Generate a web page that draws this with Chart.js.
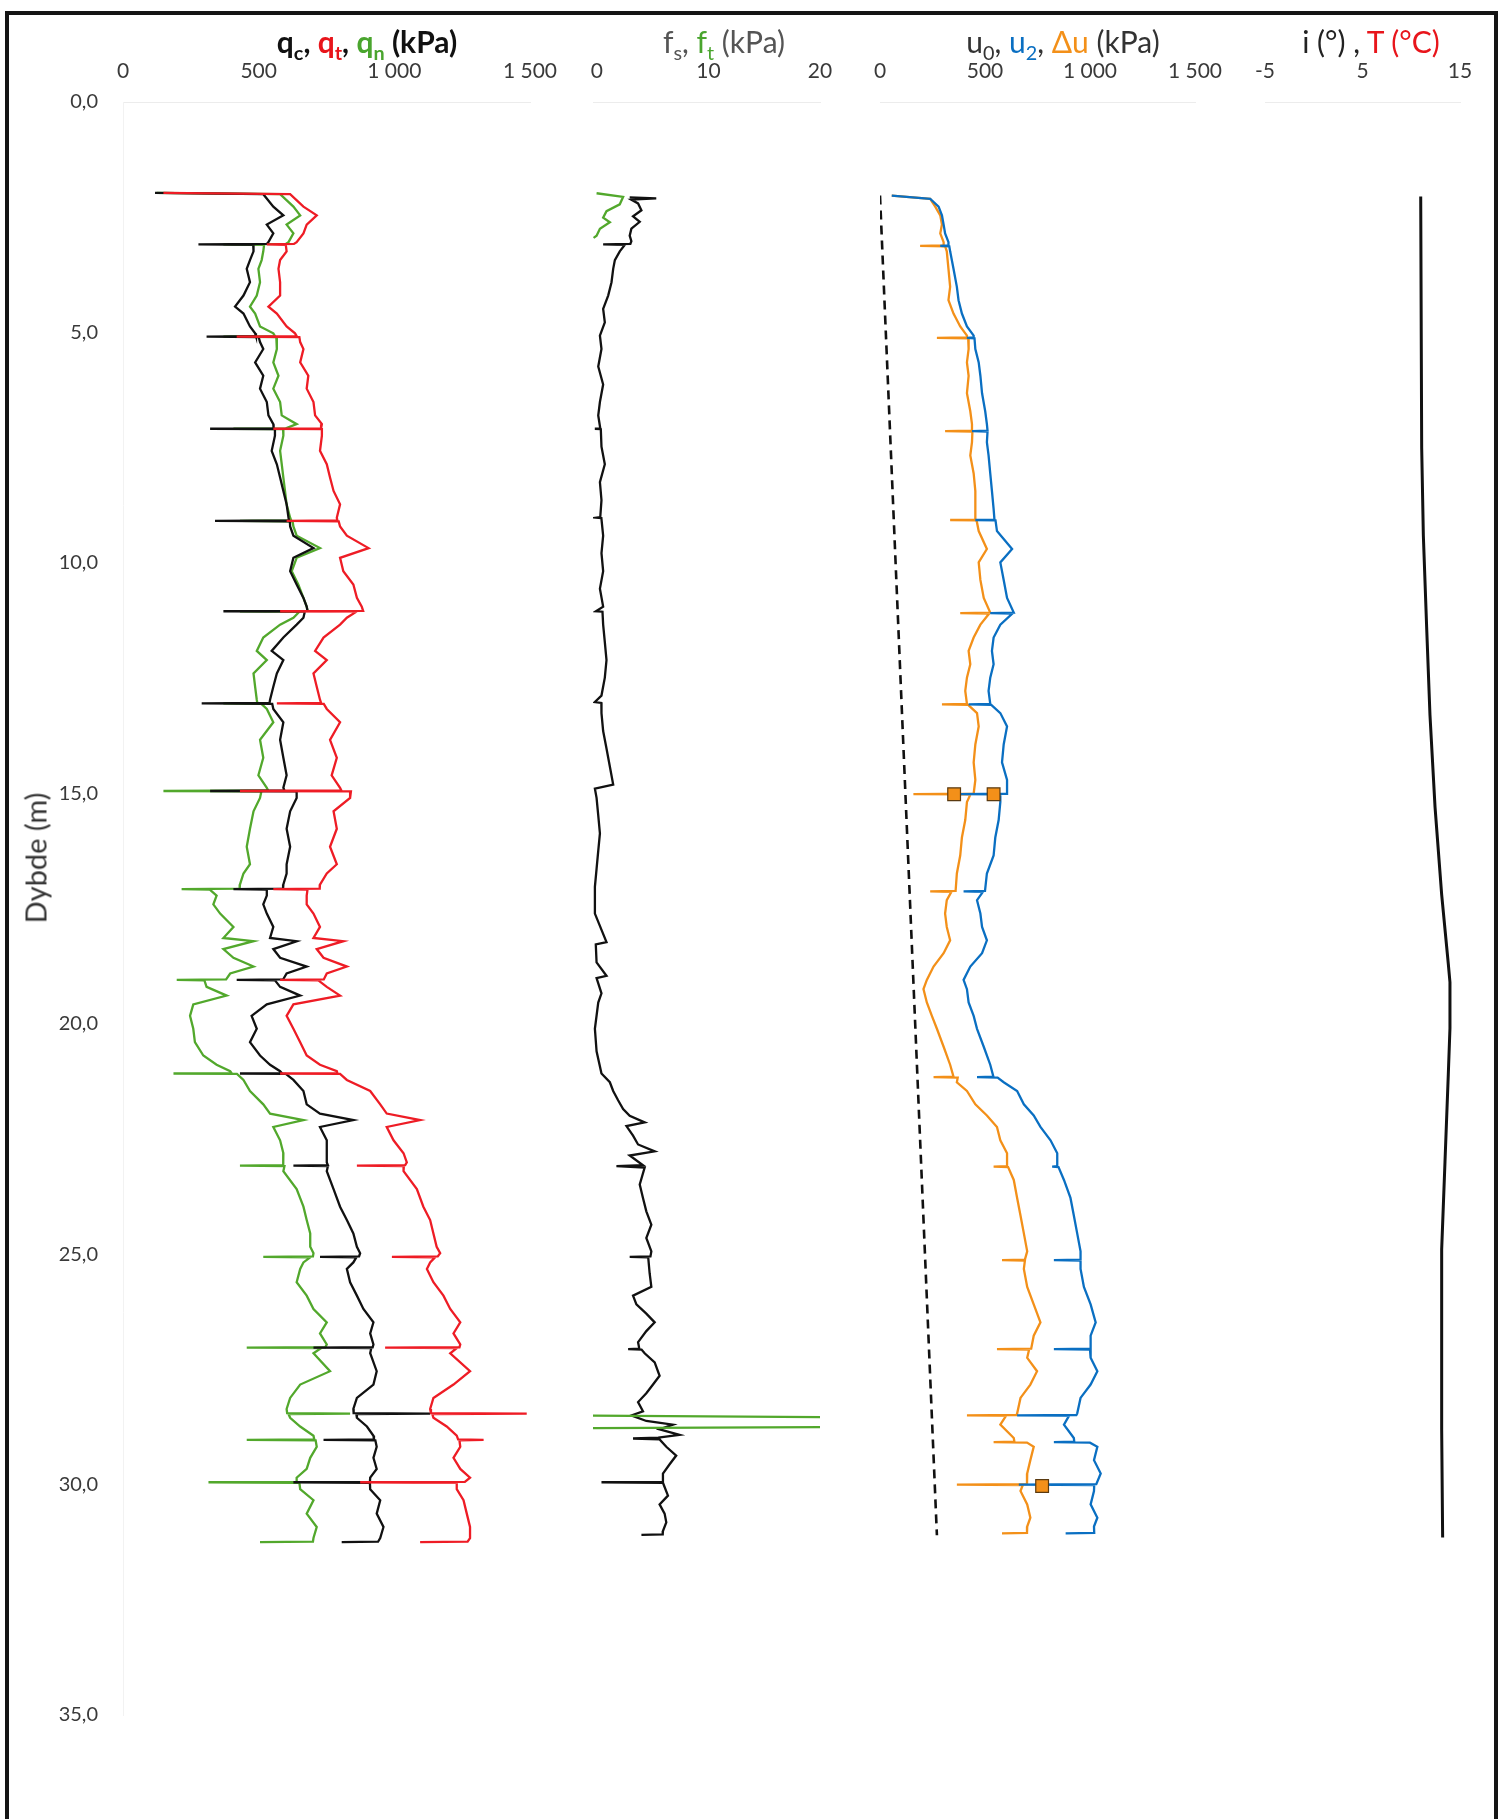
<!DOCTYPE html>
<html>
<head>
<meta charset="utf-8">
<script src="https://cdn.jsdelivr.net/npm/chart.js@4.4.0/dist/chart.umd.min.js"></script>
<style>
html, body { margin: 0; padding: 0; background: #fff; }
#page { position: relative; width: 1503px; height: 1819px; overflow: hidden; }
#frame { position: absolute; left: 5px; top: 11px; width: 1493px; height: 1900px; border: 4px solid #151515; box-sizing: border-box; }
canvas { position: absolute; left: 0; top: 0; }
.ttl { position: absolute; top: 24px; transform: translateX(-50%); white-space: nowrap; font-family: Lato, sans-serif; font-size: 30px; line-height: 34px; }
.ttl sub { font-size: 0.66em; vertical-align: -0.35em; line-height: 0; }
#ylab { position: absolute; left: 35px; top: 858px; transform: translate(-50%, -50%) rotate(-90deg); font-family: Lato, sans-serif; font-size: 29px; color: #333; white-space: nowrap; }
</style>
</head>
<body>
<div id="page">
  <div id="frame"></div>
  <canvas id="c1" width="1503" height="1819"></canvas>
  <canvas id="c2" width="1503" height="1819"></canvas>
  <canvas id="c3" width="1503" height="1819"></canvas>
  <canvas id="c4" width="1503" height="1819"></canvas>
  <div class="ttl" style="left:367px;font-weight:bold;color:#111">q<sub>c</sub>, <span style="color:#e8151b">q<sub>t</sub></span>, <span style="color:#4aa52e">q<sub>n</sub></span> (kPa)</div>
  <div class="ttl" style="left:724px;color:#555">f<sub>s</sub>, <span style="color:#4aa52e">f<sub>t</sub></span> (kPa)</div>
  <div class="ttl" style="left:1063px;color:#333">u<sub>0</sub>, <span style="color:#0a6fc2">u<sub>2</sub></span>, <span style="color:#f39019">Δu</span> (kPa)</div>
  <div class="ttl" style="left:1371px;color:#222">i (°) , <span style="color:#e8151b">T (°C)</span></div>
  <div id="ylab">Dybde (m)</div>
</div>
<script>
// depth axis
const depthTicks = [0, 5, 10, 15, 20, 25, 30, 35];

// panel 1: cone resistance qc, qt, qn (kPa)
const qDepth = [
  1.97, 2.00, 2.27, 2.46, 2.66, 2.85, 3.04, 3.08, 3.09, 3.10,
  3.24, 3.43, 3.62, 3.91, 4.20, 4.44, 4.59, 4.87, 5.02, 5.08,
  5.09, 5.10, 5.21, 5.36, 5.65, 5.94, 6.22, 6.51, 6.80, 6.99,
  7.08, 7.09, 7.10, 7.24, 7.57, 7.86, 8.15, 8.44, 8.73, 9.02,
  9.08, 9.09, 9.10, 9.21, 9.41, 9.68, 9.89, 10.18, 10.47, 10.76,
  10.95, 11.04, 11.05, 11.06, 11.19, 11.34, 11.62, 11.91, 12.11, 12.40,
  12.69, 12.97, 13.04, 13.05, 13.06, 13.17, 13.46, 13.84, 14.23, 14.61,
  14.88, 14.94, 14.95, 14.96, 15.10, 15.39, 15.77, 16.16, 16.54, 16.74,
  16.98, 17.07, 17.08, 17.09, 17.22, 17.41, 17.61, 17.90, 18.14, 18.21,
  18.38, 18.57, 18.76, 18.91, 19.04, 19.05, 19.06, 19.20, 19.39, 19.58,
  19.83, 20.11, 20.40, 20.69, 20.89, 21.03, 21.07, 21.08, 21.09, 21.22,
  21.46, 21.75, 21.95, 22.09, 22.24, 22.53, 22.81, 23.01, 23.07, 23.08,
  23.09, 23.20, 23.59, 23.97, 24.26, 24.55, 24.84, 24.98, 25.05, 25.06,
  25.07, 25.18, 25.32, 25.61, 25.90, 26.19, 26.48, 26.72, 26.96, 27.02,
  27.03, 27.04, 27.15, 27.54, 27.83, 28.12, 28.36, 28.45, 28.46, 28.47,
  28.55, 28.74, 28.94, 29.02, 29.03, 29.04, 29.18, 29.42, 29.66, 29.85,
  29.94, 29.95, 29.96, 30.10, 30.34, 30.63, 30.92, 31.16, 31.24, 31.25
];
const qc = [
  118, 517, 554, 591, 530, 554, 536, 530, 278, 480,
  481, 468, 456, 468, 444, 413, 444, 468, 487, 490,
  308, 500, 505, 517, 487, 517, 505, 530, 536, 554,
  555, 321, 560, 560, 548, 567, 579, 591, 603, 610,
  612, 339, 615, 616, 628, 702, 628, 616, 640, 665,
  677, 680, 370, 670, 665, 640, 591, 548, 591, 567,
  554, 542, 540, 290, 550, 554, 591, 579, 591, 603,
  591, 595, 321, 640, 640, 616, 603, 616, 603, 603,
  591, 590, 407, 530, 530, 517, 530, 554, 542, 640,
  554, 579, 677, 603, 590, 419, 560, 579, 653, 530,
  474, 493, 468, 505, 542, 579, 585, 431, 600, 628,
  665, 677, 726, 849, 726, 751, 751, 751, 755, 628,
  755, 751, 776, 800, 825, 849, 862, 874, 870, 726,
  860, 849, 825, 837, 862, 886, 923, 911, 923, 920,
  702, 915, 911, 935, 923, 862, 849, 850, 1132, 860,
  862, 899, 923, 925, 739, 930, 935, 923, 935, 911,
  910, 628, 910, 911, 948, 935, 960, 948, 940, 806
];
const qt = [
  149, 616, 665, 714, 677, 665, 640, 630, 530, 600,
  603, 579, 573, 579, 579, 536, 567, 603, 634, 640,
  419, 650, 653, 665, 653, 683, 677, 702, 708, 733,
  730, 554, 733, 733, 726, 751, 763, 776, 800, 788,
  790, 603, 795, 800, 825, 905, 800, 812, 849, 862,
  880, 885, 579, 860, 825, 800, 739, 708, 751, 702,
  714, 726, 730, 567, 740, 751, 800, 763, 788, 769,
  800, 805, 431, 840, 837, 776, 788, 763, 788, 751,
  726, 725, 554, 680, 677, 677, 702, 726, 702, 812,
  714, 739, 825, 751, 740, 579, 720, 751, 800, 628,
  603, 628, 653, 677, 726, 788, 790, 579, 800, 825,
  911, 948, 972, 1095, 972, 997, 1034, 1046, 1040, 862,
  1035, 1034, 1083, 1107, 1132, 1144, 1156, 1169, 1160, 991,
  1150, 1132, 1120, 1144, 1181, 1206, 1243, 1218, 1243, 1240,
  966, 1230, 1206, 1279, 1218, 1144, 1132, 1135, 1488, 1140,
  1144, 1193, 1230, 1235, 1329, 1240, 1243, 1218, 1243, 1279,
  1260, 874, 1230, 1230, 1255, 1267, 1279, 1279, 1270, 1095
];
const qn = [
  124, 579, 628, 653, 603, 628, 610, 600, 370, 520,
  517, 511, 499, 505, 493, 468, 487, 505, 554, 560,
  370, 565, 567, 567, 554, 573, 554, 579, 585, 640,
  600, 407, 590, 591, 579, 585, 591, 597, 603, 616,
  620, 431, 625, 628, 640, 726, 640, 622, 646, 665,
  677, 680, 431, 650, 628, 579, 517, 493, 530, 481,
  487, 493, 495, 370, 510, 530, 554, 505, 517, 499,
  530, 535, 149, 510, 505, 481, 468, 456, 468, 444,
  431, 430, 216, 320, 345, 333, 358, 407, 370, 481,
  370, 407, 481, 395, 380, 198, 300, 308, 382, 259,
  247, 259, 265, 296, 345, 395, 400, 186, 420, 444,
  468, 517, 542, 665, 554, 579, 591, 591, 590, 431,
  595, 591, 640, 665, 677, 690, 690, 702, 700, 517,
  690, 665, 653, 640, 677, 702, 751, 726, 751, 745,
  456, 730, 702, 763, 653, 616, 603, 605, 837, 610,
  616, 653, 702, 705, 456, 710, 714, 690, 677, 640,
  640, 315, 650, 653, 702, 677, 714, 702, 700, 505
];
const qTicks = [0, 500, 1000, 1500];

// panel 2: sleeve friction fs and ft (kPa)
const fsDepth = [
  2.07, 2.09, 2.12, 2.20, 2.35, 2.48, 2.60, 2.75, 2.90, 3.02,
  3.08, 3.09, 3.10, 3.24, 3.43, 3.62, 3.91, 4.20, 4.49, 4.78,
  5.07, 5.36, 5.74, 6.13, 6.51, 6.80, 7.08, 7.09, 7.10, 7.48,
  7.86, 8.25, 8.64, 9.01, 9.02, 9.03, 9.41, 9.79, 10.18, 10.56,
  10.95, 11.05, 11.06, 11.34, 11.72, 12.11, 12.49, 12.88, 13.02, 13.04,
  13.26, 13.65, 14.03, 14.42, 14.81, 14.90, 15.10, 15.48, 15.87, 16.25,
  16.64, 17.03, 17.61, 18.23, 18.28, 18.67, 18.96, 19.01, 19.34, 19.54,
  20.11, 20.60, 21.08, 21.27, 21.46, 21.66, 21.85, 22.00, 22.14, 22.22,
  22.43, 22.62, 22.77, 22.86, 23.07, 23.09, 23.12, 23.49, 23.78, 24.07,
  24.36, 24.65, 24.94, 25.05, 25.06, 25.07, 25.42, 25.71, 25.90, 26.09,
  26.29, 26.48, 26.67, 26.91, 27.05, 27.06, 27.07, 27.15, 27.35, 27.64,
  27.83, 28.02, 28.21, 28.41, 28.50, 28.62, 28.70, 28.80, 28.92, 28.98,
  29.00, 29.02, 29.18, 29.37, 29.56, 29.76, 29.94, 29.95, 29.96, 30.24,
  30.43, 30.63, 30.82, 31.01, 31.08, 31.09
];
const fs = [
  2.94, 5.32, 3.09, 3.69, 3.99, 3.24, 3.84, 3.09, 2.94, 3.09,
  3.00, 0.56, 2.50, 2.05, 1.61, 1.46, 1.31, 1.01, 0.56, 0.71,
  0.27, 0.41, 0.12, 0.56, 0.27, 0.12, 0.30, -0.18, 0.35, 0.41,
  0.71, 0.27, 0.41, 0.30, -0.03, 0.40, 0.56, 0.41, 0.56, 0.27,
  0.56, -0.10, 0.50, 0.56, 0.71, 0.86, 0.71, 0.41, -0.18, 0.40,
  0.41, 0.56, 0.86, 1.16, 1.46, -0.18, -0.03, 0.12, 0.27, 0.12,
  -0.03, -0.18, -0.18, 0.86, -0.10, -0.03, 0.86, -0.03, 0.41, 0.12,
  -0.18, -0.03, 0.41, 1.16, 1.46, 1.90, 2.35, 2.94, 4.28, 2.65,
  3.24, 3.69, 5.18, 2.94, 4.13, 1.75, 4.28, 3.84, 4.13, 4.43,
  4.88, 4.43, 4.88, 4.80, 2.94, 4.60, 4.73, 4.88, 3.24, 3.54,
  4.43, 5.18, 4.43, 3.69, 3.80, 2.80, 4.00, 4.28, 5.18, 5.62,
  5.03, 4.43, 3.69, 4.13, 3.09, 4.43, 6.81, 5.62, 7.41, 5.50,
  3.24, 5.62, 6.22, 7.11, 6.52, 5.92, 5.92, 0.41, 5.92, 6.37,
  5.62, 6.07, 6.22, 5.92, 5.90, 3.99
];
const ftDepth = [1.98, 2.06, 2.22, 2.37, 2.51, 2.61, 2.75, 2.90, 2.95, 3.00, 28.50, 28.55, 28.74, 28.78];
const ft = [-0.03, 2.35, 2.05, 0.86, 0.56, 1.16, 0.27, -0.03, -0.30, null, -3, 30, 30, -3];
const fTicks = [0, 10, 20];

// panel 3: pore pressure u0, u2, du (kPa)
const uDepth = [
  2.03, 2.10, 2.27, 2.46, 2.66, 2.85, 3.04, 3.11, 3.12, 3.13,
  3.24, 3.62, 4.01, 4.30, 4.59, 4.87, 5.07, 5.11, 5.12, 5.13,
  5.36, 5.65, 5.94, 6.32, 6.71, 6.99, 7.13, 7.14, 7.15, 7.38,
  7.67, 8.06, 8.44, 8.83, 9.06, 9.07, 9.08, 9.31, 9.70, 9.99,
  10.37, 10.76, 11.08, 11.09, 11.10, 11.34, 11.62, 11.91, 12.20, 12.49,
  12.78, 13.06, 13.07, 13.08, 13.26, 13.55, 13.94, 14.33, 14.71, 15.01,
  15.02, 15.03, 15.19, 15.58, 15.96, 16.35, 16.74, 17.12, 17.13, 17.14,
  17.32, 17.61, 17.90, 18.19, 18.47, 18.76, 19.05, 19.25, 19.54, 19.83,
  20.11, 20.50, 20.89, 21.15, 21.16, 21.17, 21.27, 21.46, 21.75, 21.99,
  22.24, 22.53, 22.81, 23.09, 23.10, 23.11, 23.39, 23.78, 24.16, 24.55,
  24.94, 25.12, 25.13, 25.14, 25.32, 25.71, 26.09, 26.48, 26.77, 27.05,
  27.06, 27.07, 27.25, 27.54, 27.83, 28.12, 28.46, 28.49, 28.50, 28.51,
  28.70, 28.99, 29.07, 29.08, 29.09, 29.18, 29.47, 29.76, 29.99, 30.00,
  30.01, 30.14, 30.43, 30.72, 30.91, 31.05, 31.06
];
const u2 = [
  56, 239, 279, 295, 303, 310, 326, 326, 287, 330,
  334, 350, 366, 374, 390, 414, 446, 446, 414, 450,
  454, 470, 478, 486, 501, 509, 512, 438, 512, 509,
  517, 525, 533, 541, 545, 454, 550, 557, 629, 573,
  589, 605, 637, 525, 630, 573, 541, 533, 541, 525,
  517, 525, 422, 530, 573, 605, 589, 581, 605, 605,
  382, 573, 573, 565, 549, 541, 509, 500, 398, 490,
  462, 478, 486, 509, 486, 430, 398, 414, 422, 446,
  462, 494, 525, 540, 462, 560, 589, 653, 685, 732,
  764, 812, 844, 844, 820, 850, 876, 907, 923, 939,
  955, 955, 828, 955, 955, 971, 1003, 1027, 1003, 1003,
  828, 1000, 1003, 1035, 1003, 955, 939, 935, 653, 900,
  876, 923, 925, 828, 1000, 1035, 1019, 1051, 1030, 661,
  1020, 1019, 1003, 1035, 1019, 1020, 884
];
const du = [
  56, 239, 263, 287, 295, 287, 303, 303, 191, 310,
  318, 326, 334, 326, 350, 382, 414, 414, 271, 420,
  422, 414, 422, 414, 430, 438, 438, 310, 440, 438,
  430, 446, 454, 454, 454, 334, 460, 470, 509, 470,
  478, 494, 525, 382, 520, 478, 446, 422, 430, 414,
  406, 414, 295, 420, 462, 470, 454, 446, 454, 446,
  159, 430, 414, 406, 390, 382, 366, 360, 239, 340,
  318, 310, 318, 334, 303, 255, 223, 207, 223, 247,
  271, 303, 334, 350, 255, 370, 366, 414, 454, 509,
  557, 573, 605, 605, 541, 610, 637, 653, 669, 685,
  701, 690, 581, 690, 685, 701, 732, 764, 732, 720,
  557, 710, 701, 748, 716, 669, 653, 650, 414, 600,
  573, 637, 640, 541, 700, 732, 716, 701, 700, 366,
  680, 669, 701, 716, 701, 700, 581
];
const u0Depth = [2.03, 31.1];
const u0 = [0, 271];
const dissDepth = [15.02, 15.02, 30.03];
const dissU = [353, 541, 772];
const uTicks = [0, 500, 1000, 1500];

// panel 4: inclination i (deg)
const iDepth = [2.05, 7.5, 9.4, 11.4, 13.3, 15.3, 17.2, 18.7, 19.1, 20.1, 21.1, 23.0, 24.9, 26.9, 28.8, 31.15];
const incl = [10.97, 11.07, 11.24, 11.58, 11.92, 12.44, 13.12, 13.80, 13.97, 13.97, 13.80, 13.46, 13.12, 13.12, 13.12, 13.22];
const iTicks = [-5, 5, 15];

Chart.defaults.font.family = 'Lato, sans-serif';

const pts = (ds, vs) => ds.map((d, k) => ({ x: vs[k], y: d }));
const kfmt = v => String(v).replace(/(\d)(\d{3})$/, '$1 $2');

function line(label, ds, vs, color, width, extra) {
  return Object.assign({
    label, data: pts(ds, vs), showLine: true, borderColor: color, backgroundColor: color,
    borderWidth: width, pointRadius: 0, tension: 0, spanGaps: false
  }, extra || {});
}

function panel(id, datasets, xMin, xMax, xTicks, left, right, showY) {
  new Chart(document.getElementById(id), {
    type: 'scatter',
    data: { datasets },
    options: {
      responsive: false,
      animation: false,
      events: [],
      layout: { padding: { left: showY ? 10 : left, right: 1503 - right, top: 50, bottom: 1819 - 1715 } },
      plugins: { legend: { display: false }, tooltip: { enabled: false } },
      scales: {
        x: {
          type: 'linear', position: 'top', min: xMin, max: xMax,
          afterBuildTicks: s => { s.ticks = xTicks.map(v => ({ value: v })); },
          afterFit: s => { s.height = 52; },
          grid: { display: false, drawTicks: false },
          border: { display: true, color: '#ececec', dash: [5, 5] },
          ticks: { padding: 18, color: '#3a3a3a', font: { size: 21 }, maxRotation: 0, autoSkip: false, callback: v => kfmt(v) }
        },
        y: {
          type: 'linear', reverse: true, min: 0, max: 35, display: showY,
          afterBuildTicks: s => { s.ticks = depthTicks.map(v => ({ value: v })); },
          afterFit: s => { s.width = showY ? 113 : 0; },
          grid: { display: false, drawTicks: false },
          border: { display: true, color: '#f2f2f2' },
          ticks: { padding: 25, color: '#3a3a3a', font: { size: 20 }, callback: v => v.toFixed(1).replace('.', ',') }
        }
      }
    }
  });
}

panel('c1', [
  line('qt', qDepth, qt, '#ee1c25', 2.3),
  line('qc', qDepth, qc, '#111111', 2.3),
  line('qn', qDepth, qn, '#52a82c', 2.3)
], 0, 1500, qTicks, 123, 530, true);

panel('c2', [
  line('ft', ftDepth, ft, '#52a82c', 2.3),
  line('fs', fsDepth, fs, '#111111', 2.3)
], -0.35, 20, fTicks, 593, 820, false);

panel('c3', [
  {
    label: 'dissipation', data: pts(dissDepth, dissU), showLine: false, pointStyle: 'rect',
    pointRadius: 9, backgroundColor: '#f39019', borderColor: '#5a3a10', borderWidth: 1.2
  },
  line('u2', uDepth, u2, '#0a6fc2', 2.3),
  line('du', uDepth, du, '#f39019', 2.3),
  line('u0', u0Depth, u0, '#111111', 2.6, { borderDash: [9, 6] })
], 0, 1500, uTicks, 880, 1195, false);

panel('c4', [
  line('i', iDepth, incl, '#111111', 3)
], -5, 15, iTicks, 1265, 1460, false);
</script>
</body>
</html>
